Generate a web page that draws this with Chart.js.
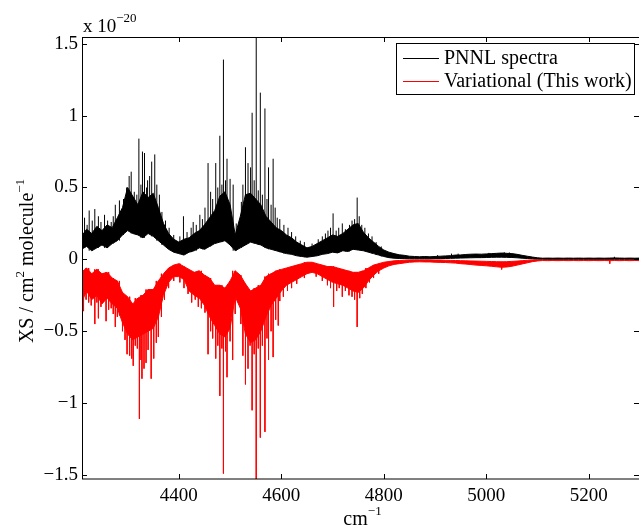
<!DOCTYPE html>
<html>
<head>
<meta charset="utf-8">
<script src="https://cdn.jsdelivr.net/npm/chart.js@4.4.0/dist/chart.umd.min.js"></script>
<style>
  body { margin: 0; background: #fff; }
</style>
</head>
<body>
<canvas id="xsChart" width="639" height="526"></canvas>
<script>
// wavenumber grid (cm-1) for the band envelopes
const wavenumbers = [
  4210,4220,4230,4240,4250,4260,4270,4280,4290,4300,
  4310,4320,4330,4340,4350,4360,4370,4380,4390,4400,
  4410,4420,4430,4440,4450,4460,4470,4480,4490,4500,
  4510,4520,4530,4540,4550,4560,4570,4580,4590,4600,
  4610,4620,4630,4640,4650,4660,4670,4680,4690,4700,
  4710,4720,4730,4740,4750,4760,4770,4780,4790,4800,
  4810,4820,4830,4840,4850,4860,4870,4880,4890,4900,
  4910,4920,4930,4940,4950,4960,4970,4980,4990,5000,
  5010,5020,5030,5040,5050,5060,5070,5080,5090,5100,
  5110,5120,5130,5140,5150,5160,5170,5180,5190,5200,
  5210,5220,5230,5240,5250,5260,5270,5280,5290,5300
];

// PNNL spectra (x 1e-20): lower and upper edge of the dense band
const pnnlLow = [
  0.07,0.09,0.06,0.08,0.10,0.08,0.11,0.13,0.17,0.20,
  0.18,0.17,0.15,0.18,0.16,0.13,0.10,0.07,0.05,0.04,
  0.03,0.05,0.06,0.08,0.07,0.09,0.11,0.12,0.13,0.10,
  0.06,0.08,0.10,0.12,0.11,0.10,0.08,0.07,0.06,0.05,
  0.04,0.035,0.025,0.02,0.015,0.02,0.025,0.035,0.04,0.05,
  0.045,0.06,0.055,0.07,0.065,0.06,0.05,0.04,0.03,0.02,
  0.012,0.008,0.006,0.005,0.004,0.004,0.004,0.004,0.004,0.005,
  0.005,0.006,0.007,0.008,0.009,0.01,0.011,0.012,0.012,0.013,
  0.014,0.015,0.015,0.014,0.013,0.011,0.008,0.006,0.004,0.003,
  0.003,0.002,0.002,0.002,0.002,0.002,0.002,0.002,0.002,0.002,
  0.002,0.002,0.002,0.002,0.002,0.002,0.002,0.002,0.002,0.002
];
const pnnlHigh = [
  0.16,0.21,0.18,0.23,0.20,0.24,0.22,0.29,0.36,0.50,
  0.44,0.38,0.47,0.43,0.46,0.36,0.25,0.18,0.14,0.12,
  0.14,0.15,0.18,0.20,0.24,0.29,0.34,0.44,0.47,0.38,
  0.17,0.30,0.45,0.46,0.42,0.38,0.30,0.26,0.22,0.20,
  0.17,0.15,0.12,0.10,0.08,0.09,0.11,0.13,0.15,0.17,
  0.16,0.18,0.21,0.24,0.25,0.19,0.15,0.12,0.09,0.065,
  0.05,0.04,0.032,0.028,0.022,0.02,0.018,0.02,0.018,0.02,
  0.022,0.024,0.026,0.03,0.031,0.034,0.036,0.037,0.036,0.038,
  0.04,0.042,0.044,0.042,0.04,0.035,0.028,0.022,0.016,0.011,
  0.008,0.009,0.008,0.009,0.008,0.009,0.008,0.009,0.008,0.009,
  0.008,0.009,0.008,0.009,0.01,0.009,0.008,0.009,0.008,0.009
];
// strongest PNNL lines sticking out of the band
const pnnlLineX = [
  4216,4221,4225,4231,4236,4243,4248,4255,4261,4268,4272,4276,4284,4292,4298,4303,4307,4313,4318,4322,
  4326,4329,4333,4337,4339,4343,4347,4353,4357,4362,4367,4374,4381,4390,4402,4409,4416,4424,4428,4434,
  4441,4446,4451,4457,4462,4466,4472,4476,4480,4484,4487,4491,4494,4500,4506,4512,4517,4522,4525,4530,
  4535,4540,4543,4547,4551,4555,4559,4563,4568,4572,4575,4580,4584,4588,4592,4597,4605,4613,4620,4628,
  4637,4645,4660,4672,4680,4686,4691,4696,4701,4707,4712,4719,4725,4733,4738,4743,4748,4752,4757,4763,
  4770,4777,4785,4795,4905,4932,4945,5005,5035,5045,5250
];
const pnnlLineY = [
  0.29,0.24,0.34,0.27,0.35,0.30,0.26,0.31,0.27,0.26,0.30,0.38,0.41,0.42,0.50,0.58,0.61,0.47,0.45,0.84,
  0.52,0.75,0.74,0.50,0.55,0.58,0.68,0.73,0.52,0.45,0.33,0.27,0.22,0.17,0.16,0.30,0.19,0.22,0.26,0.24,
  0.31,0.28,0.36,0.67,0.47,0.42,0.67,0.50,0.86,0.52,1.39,0.55,0.70,0.56,0.52,0.25,0.22,0.40,0.52,0.78,
  0.67,0.64,1.02,0.55,1.60,0.48,1.16,0.45,1.05,0.42,0.64,0.38,0.70,0.36,0.29,0.28,0.24,0.22,0.19,0.16,
  0.13,0.12,0.11,0.14,0.16,0.18,0.20,0.22,0.32,0.20,0.22,0.25,0.21,0.24,0.27,0.28,0.43,0.30,0.24,0.22,
  0.18,0.16,0.12,0.09,0.03,0.04,0.04,0.045,0.05,0.048,0.018
];

// Variational (this work), plotted negative: edge near zero and deep edge
const varHigh = [
  -0.09,-0.06,-0.10,-0.07,-0.10,-0.09,-0.13,-0.15,-0.23,-0.26,
  -0.31,-0.27,-0.25,-0.21,-0.21,-0.15,-0.10,-0.06,-0.04,-0.03,
  -0.05,-0.07,-0.09,-0.08,-0.11,-0.13,-0.18,-0.18,-0.20,-0.15,
  -0.08,-0.11,-0.17,-0.22,-0.20,-0.18,-0.12,-0.10,-0.08,-0.07,
  -0.06,-0.05,-0.04,-0.03,-0.02,-0.02,-0.03,-0.04,-0.05,-0.05,
  -0.06,-0.07,-0.08,-0.09,-0.09,-0.08,-0.06,-0.04,-0.03,-0.02,
  -0.015,-0.01,-0.008,-0.006,-0.005,-0.004,-0.004,-0.004,-0.004,-0.005,
  -0.005,-0.006,-0.007,-0.008,-0.009,-0.01,-0.011,-0.012,-0.013,-0.014,
  -0.015,-0.016,-0.017,-0.016,-0.014,-0.012,-0.009,-0.006,-0.004,-0.003,
  -0.002,-0.002,-0.002,-0.002,-0.002,-0.002,-0.002,-0.002,-0.002,-0.002,
  -0.002,-0.002,-0.002,-0.002,-0.002,-0.002,-0.002,-0.002,-0.002,-0.002
];
const varLow = [
  -0.30,-0.22,-0.28,-0.25,-0.31,-0.27,-0.31,-0.34,-0.44,-0.52,
  -0.56,-0.54,-0.52,-0.50,-0.48,-0.40,-0.25,-0.16,-0.12,-0.12,
  -0.14,-0.22,-0.25,-0.27,-0.32,-0.40,-0.46,-0.52,-0.54,-0.48,
  -0.26,-0.34,-0.52,-0.58,-0.56,-0.50,-0.40,-0.32,-0.27,-0.22,
  -0.18,-0.16,-0.14,-0.12,-0.10,-0.09,-0.10,-0.12,-0.14,-0.16,
  -0.17,-0.18,-0.20,-0.22,-0.23,-0.20,-0.15,-0.11,-0.08,-0.06,
  -0.045,-0.035,-0.03,-0.025,-0.02,-0.018,-0.017,-0.018,-0.018,-0.02,
  -0.021,-0.022,-0.024,-0.026,-0.03,-0.033,-0.036,-0.04,-0.042,-0.045,
  -0.048,-0.052,-0.055,-0.053,-0.048,-0.04,-0.032,-0.024,-0.016,-0.011,
  -0.008,-0.009,-0.008,-0.009,-0.008,-0.009,-0.008,-0.009,-0.008,-0.009,
  -0.008,-0.009,-0.008,-0.009,-0.008,-0.009,-0.008,-0.009,-0.008,-0.009
];
const varLineX = [
  4214,4219,4224,4229,4233,4236,4240,4243,4248,4253,4258,4263,4268,4272,4276,4280,4284,4290,4295,4299,
  4304,4308,4311,4315,4319,4323,4326,4328,4332,4336,4340,4346,4351,4356,4360,4366,4372,4380,4390,4402,
  4410,4418,4425,4432,4438,4444,4451,4457,4462,4466,4472,4476,4480,4484,4487,4491,4494,4500,4505,4510,
  4516,4521,4525,4530,4535,4539,4543,4547,4551,4555,4559,4563,4568,4572,4575,4580,4584,4589,4594,4597,
  4604,4612,4620,4630,4645,4668,4680,4690,4696,4702,4708,4713,4719,4725,4732,4738,4743,4748,4753,4758,
  4765,4772,4780,4790,5030,5241
];
const varLineY = [
  -0.36,-0.28,-0.30,-0.32,-0.27,-0.45,-0.30,-0.41,-0.33,-0.29,-0.43,-0.35,-0.34,-0.38,-0.47,-0.40,-0.39,-0.50,-0.56,-0.66,
  -0.67,-0.69,-0.74,-0.60,-0.62,-1.11,-0.70,-0.83,-0.76,-0.72,-0.63,-0.83,-0.69,-0.58,-0.54,-0.40,-0.28,-0.20,-0.15,-0.16,
  -0.20,-0.24,-0.30,-0.28,-0.33,-0.34,-0.37,-0.66,-0.50,-0.55,-0.69,-0.60,-0.95,-0.62,-1.49,-0.64,-0.82,-0.57,-0.70,-0.38,
  -0.30,-0.45,-0.67,-0.87,-0.76,-0.60,-1.05,-0.66,-1.60,-0.62,-1.24,-0.60,-1.20,-0.55,-0.70,-0.50,-0.68,-0.42,-0.46,-0.29,
  -0.26,-0.22,-0.20,-0.17,-0.13,-0.12,-0.15,-0.18,-0.20,-0.33,-0.22,-0.20,-0.26,-0.22,-0.25,-0.26,-0.28,-0.47,-0.27,-0.24,
  -0.20,-0.16,-0.13,-0.10,-0.07,-0.03
];

const xTicks = [4400, 4600, 4800, 5000, 5200];
const yTicks = [-1.5, -1, -0.5, 0, 0.5, 1, 1.5];

const serif = "'Liberation Serif', 'Times New Roman', serif";

function bandPoints(values) {
  return wavenumbers.map((x, i) => ({ x: x, y: values[i] }));
}

// each line goes from the band edge (nearest grid value) out to its peak
function linePoints(xs, ys, edge) {
  const pts = [];
  xs.forEach((x, i) => {
    const k = Math.round((x - wavenumbers[0]) / (wavenumbers[1] - wavenumbers[0]));
    pts.push({ x: x, y: edge[k] });
    pts.push({ x: x, y: ys[i] });
    pts.push({ x: x, y: null });
  });
  return pts;
}

function lineSet(data, color, extra) {
  return Object.assign({
    data: data,
    borderColor: color,
    backgroundColor: color,
    borderWidth: 1,
    pointRadius: 0,
    tension: 0,
    fill: false,
    spanGaps: false
  }, extra || {});
}

// draws text pieces with superscripts, centred on (0,0) baseline
function drawPieces(ctx, pieces) {
  let total = 0;
  pieces.forEach(p => {
    ctx.font = p.size + 'px ' + serif;
    total += ctx.measureText(p.text).width;
  });
  let x = -total / 2;
  pieces.forEach(p => {
    ctx.font = p.size + 'px ' + serif;
    ctx.fillText(p.text, x, p.rise);
    x += ctx.measureText(p.text).width;
  });
}

const framePlugin = {
  id: 'frame',
  afterDraw(chart) {
    const { ctx, chartArea: a, scales } = chart;
    ctx.save();
    ctx.strokeStyle = '#000';
    ctx.fillStyle = '#000';
    ctx.lineWidth = 1;

    // axes box
    ctx.strokeRect(a.left + 0.5, a.top + 0.5, a.right - a.left, a.bottom - a.top - 0.5);

    // inward tick marks
    const tl = 5;
    ctx.beginPath();
    xTicks.forEach(v => {
      const px = Math.round(scales.x.getPixelForValue(v)) + 0.5;
      ctx.moveTo(px, a.bottom); ctx.lineTo(px, a.bottom - tl);
      ctx.moveTo(px, a.top); ctx.lineTo(px, a.top + tl);
    });
    yTicks.forEach(v => {
      const py = Math.round(scales.y.getPixelForValue(v)) + 0.5;
      ctx.moveTo(a.left, py); ctx.lineTo(a.left + tl, py);
      ctx.moveTo(a.right, py); ctx.lineTo(a.right - tl, py);
    });
    ctx.stroke();

    // exponent label
    ctx.textAlign = 'left';
    ctx.textBaseline = 'alphabetic';
    ctx.font = '19px ' + serif;
    ctx.fillText('x 10', a.left + 1, a.top - 5);
    const w = ctx.measureText('x 10').width;
    ctx.font = '13px ' + serif;
    ctx.fillText('\u221220', a.left + 1 + w, a.top - 15);

    // y axis title
    ctx.save();
    ctx.translate(33, (a.top + a.bottom) / 2 + 3);
    ctx.rotate(-Math.PI / 2);
    drawPieces(ctx, [
      { text: 'XS / cm', size: 20, rise: 0 },
      { text: '2', size: 13, rise: -9 },
      { text: ' molecule', size: 20, rise: 0 },
      { text: '\u22121', size: 13, rise: -9 }
    ]);
    ctx.restore();

    // x axis title
    ctx.save();
    ctx.translate((a.left + a.right) / 2 + 2, 525);
    drawPieces(ctx, [
      { text: 'cm', size: 20, rise: 0 },
      { text: '\u22121', size: 13, rise: -10 }
    ]);
    ctx.restore();

    // legend box
    const items = chart.data.datasets.filter(d => d.inLegend);
    const bx = a.right - 243, by = a.top + 6, bw = 238, bh = 51;
    ctx.fillStyle = '#fff';
    ctx.fillRect(bx, by, bw, bh);
    ctx.strokeStyle = '#000';
    ctx.strokeRect(bx + 0.5, by + 0.5, bw, bh);
    ctx.font = '20px ' + serif;
    ctx.textBaseline = 'middle';
    items.forEach((d, i) => {
      const ly = by + 15 + i * 23;
      ctx.strokeStyle = d.borderColor;
      ctx.beginPath();
      ctx.moveTo(bx + 7, ly + 0.5);
      ctx.lineTo(bx + 43, ly + 0.5);
      ctx.stroke();
      ctx.fillStyle = '#000';
      ctx.fillText(d.label, bx + 48, ly + 1);
    });
    ctx.restore();
  }
};

new Chart(document.getElementById('xsChart'), {
  type: 'line',
  data: {
    datasets: [
      lineSet(bandPoints(pnnlLow), '#000000', { label: 'pnnl low' }),
      lineSet(bandPoints(pnnlHigh), '#000000', { label: 'PNNL spectra', fill: '-1', inLegend: true }),
      lineSet(linePoints(pnnlLineX, pnnlLineY, pnnlLow), '#000000', { label: 'pnnl lines' }),
      lineSet(bandPoints(varHigh), '#ff0000', { label: 'var high' }),
      lineSet(bandPoints(varLow), '#ff0000', { label: 'Variational (This work)', fill: '-1', inLegend: true }),
      lineSet(linePoints(varLineX, varLineY, varHigh), '#ff0000', { label: 'var lines' })
    ]
  },
  options: {
    responsive: false,
    animation: false,
    layout: { padding: { top: 37, right: 0, left: 0, bottom: 0 } },
    plugins: {
      legend: { display: false },
      tooltip: { enabled: false }
    },
    scales: {
      x: {
        type: 'linear',
        min: 4211,
        max: 5298,
        grid: { display: false, drawTicks: false },
        border: { display: false },
        afterBuildTicks: s => { s.ticks = xTicks.map(v => ({ value: v })); },
        afterFit: s => { s.height = 47; },
        ticks: {
          autoSkip: false,
          maxRotation: 0,
          padding: 6,
          color: '#000',
          font: { family: serif, size: 19 },
          callback: v => String(v)
        }
      },
      y: {
        type: 'linear',
        min: -1.528,
        max: 1.547,
        grid: { display: false, drawTicks: false },
        border: { display: false },
        afterBuildTicks: s => { s.ticks = yTicks.map(v => ({ value: v })); },
        afterFit: s => { s.width = 82; },
        ticks: {
          autoSkip: false,
          padding: 4,
          color: '#000',
          font: { family: serif, size: 19 },
          callback: v => (v < 0 ? '\u2212' + Math.abs(v) : String(v))
        }
      }
    }
  },
  plugins: [framePlugin]
});
</script>
</body>
</html>
